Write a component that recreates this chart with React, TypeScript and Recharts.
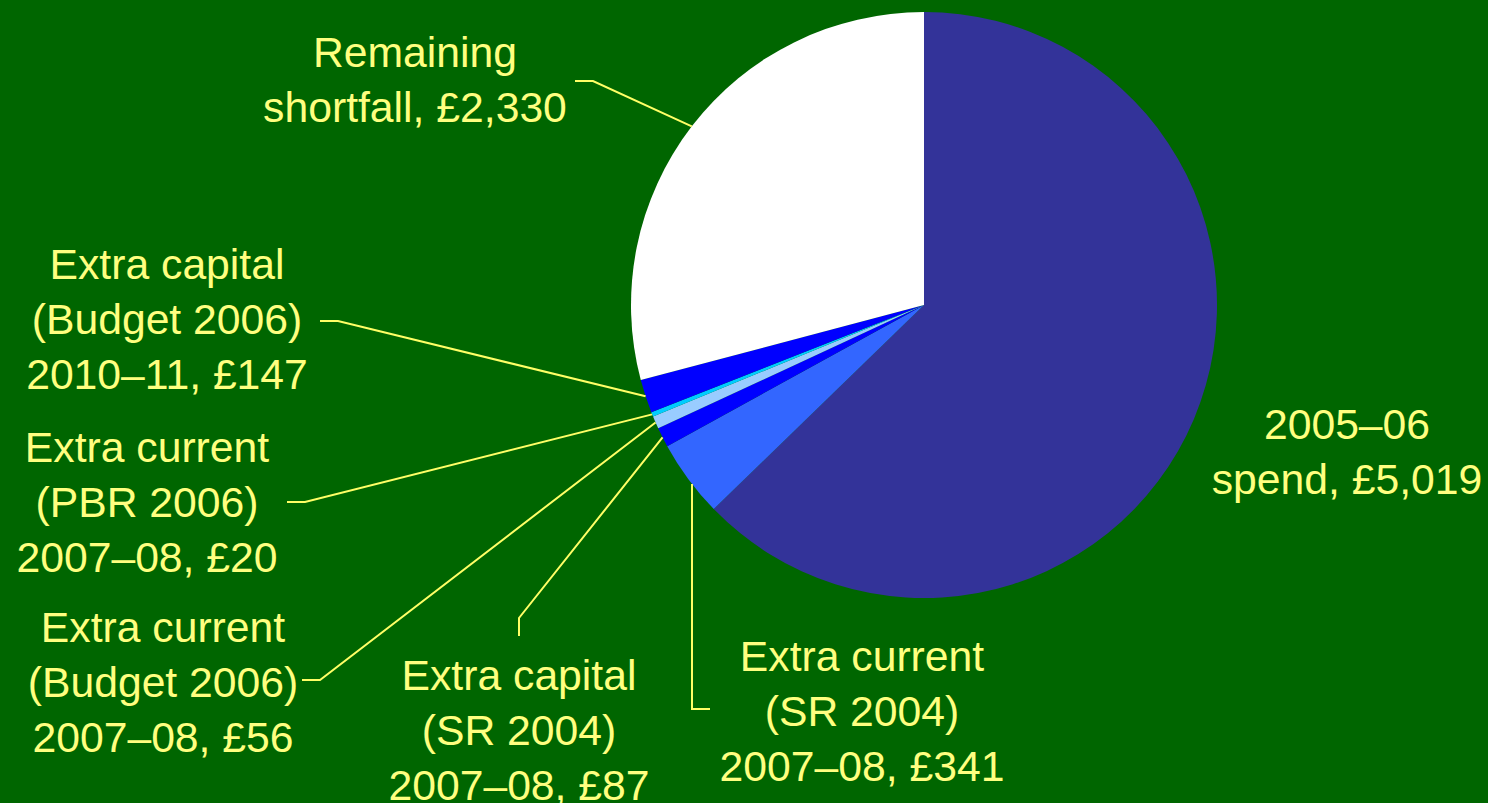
import React from 'react';
import { PieChart, Pie, Cell } from 'recharts';

// ---- data ----
const categories = [
  '2005–06 spend',
  'Extra current (SR 2004) 2007–08',
  'Extra capital (SR 2004) 2007–08',
  'Extra current (Budget 2006) 2007–08',
  'Extra current (PBR 2006) 2007–08',
  'Extra capital (Budget 2006) 2010–11',
  'Remaining shortfall',
];
const values = [5019, 341, 87, 56, 20, 147, 2330];
const labelNameLines = [
  ['2005–06', 'spend'],
  ['Extra current', '(SR 2004)', '2007–08'],
  ['Extra capital', '(SR 2004)', '2007–08'],
  ['Extra current', '(Budget 2006)', '2007–08'],
  ['Extra current', '(PBR 2006)', '2007–08'],
  ['Extra capital', '(Budget 2006)', '2010–11'],
  ['Remaining', 'shortfall'],
];

// ---- styles / layout ----
const colors = ['#333399', '#3366FF', '#0000FF', '#99CCFF', '#00CCFF', '#0000FF', '#FFFFFF'];
const BG = '#006600';
const TEXT = '#FFFF80';
const LINE = '#FFFF66';
const FONT = '"Liberation Sans", Arial, sans-serif';
const FONT_SIZE = 42.7;
const LINE_H = 55;

type Layout = { x: number; y: number; leader: number[][] | null; vertical?: boolean };
const labelLayout: Layout[] = [
  { x: 1347, y: 439, leader: null },
  { x: 862, y: 671, leader: [[692, 709], [710, 709]], vertical: true },
  { x: 519, y: 690, leader: [[519, 618], [519, 636]] },
  { x: 163, y: 642, leader: [[320, 680], [302, 680]] },
  { x: 147, y: 462, leader: [[305, 502], [287, 502]] },
  { x: 167, y: 279, leader: [[338, 321], [320, 321]] },
  { x: 415, y: 67, leader: [[593, 81], [575, 81]] },
];

const data = categories.map((name, i) => ({ name, value: values[i] }));

const RAD = Math.PI / 180;
const fmt = (v: number) => '£' + v.toLocaleString('en-GB');

const renderLabel = (props: any) => {
  const { cx, cy, midAngle, outerRadius, index } = props;
  const lay = labelLayout[index];
  const lines = labelNameLines[index].slice();
  lines[lines.length - 1] = lines[lines.length - 1] + ', ' + fmt(values[index]);
  let leader: React.ReactNode = null;
  if (lay.leader) {
    let sx = cx + outerRadius * Math.cos(-midAngle * RAD);
    let sy = cy + outerRadius * Math.sin(-midAngle * RAD);
    if (lay.vertical) {
      sx = lay.leader[0][0];
      const dx = sx - cx;
      sy = cy + Math.sqrt(Math.max(0, outerRadius * outerRadius - dx * dx));
    }
    const pts = [[sx, sy], ...lay.leader].map((p) => p.join(',')).join(' ');
    leader = <polyline points={pts} fill="none" stroke={LINE} strokeWidth={2} />;
  }
  return (
    <g key={'lbl' + index}>
      {leader}
      <text
        x={lay.x}
        y={lay.y}
        fill={TEXT}
        textAnchor="middle"
        fontFamily={FONT}
        fontSize={FONT_SIZE}
      >
        {lines.map((l, i) => (
          <tspan key={i} x={lay.x} y={lay.y + i * LINE_H}>
            {l}
          </tspan>
        ))}
      </text>
    </g>
  );
};

export default function App() {
  return (
    <div style={{ position: 'absolute', left: 0, top: 0, width: 1488, height: 803, background: BG }}>
      <PieChart width={1488} height={803} margin={{ top: 0, right: 0, bottom: 0, left: 0 }}>
        <Pie
          data={data}
          dataKey="value"
          nameKey="name"
          cx={924}
          cy={305}
          outerRadius={293}
          startAngle={90}
          endAngle={-270}
          stroke="none"
          label={renderLabel}
          labelLine={false}
          isAnimationActive={false}
        >
          {data.map((d, i) => (
            <Cell key={d.name} fill={colors[i]} />
          ))}
        </Pie>
      </PieChart>
    </div>
  );
}
